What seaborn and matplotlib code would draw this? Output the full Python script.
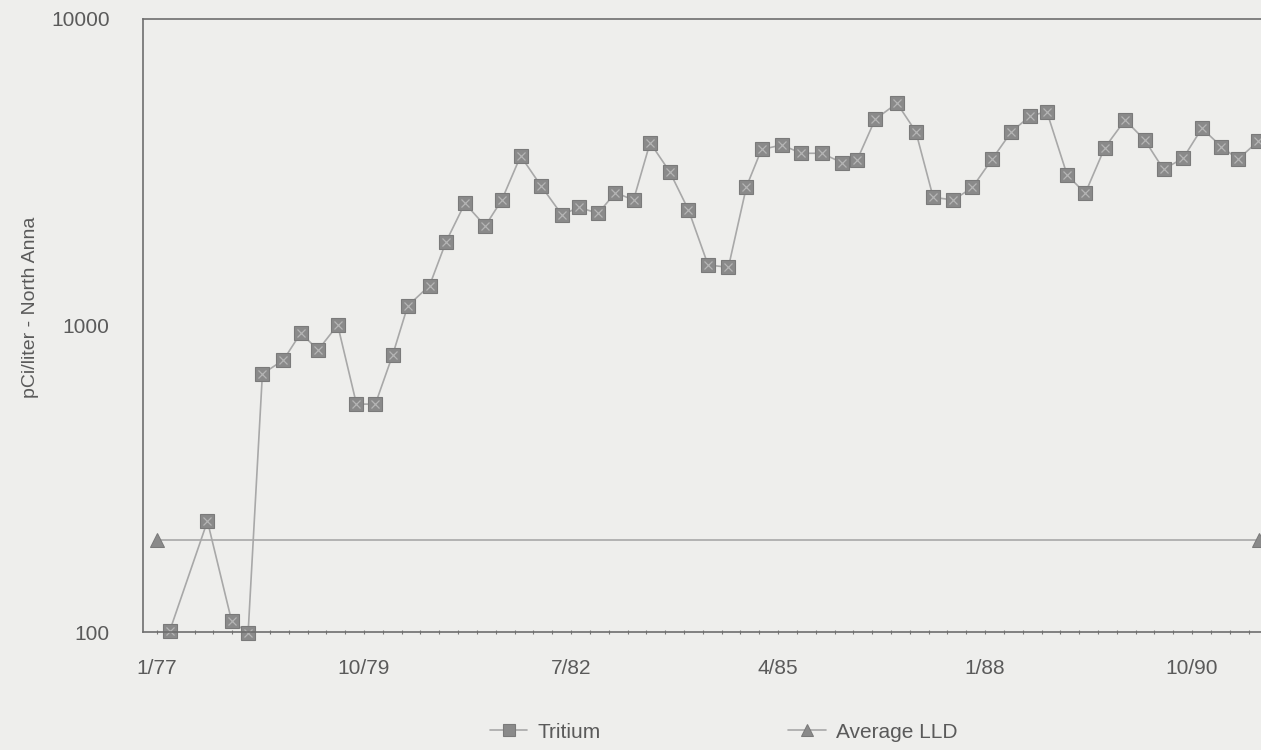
import numpy as np
import pandas as pd
import matplotlib
matplotlib.use("Agg")
import matplotlib.pyplot as plt
import seaborn as sns
from matplotlib.ticker import FixedLocator, NullLocator, NullFormatter

# ---- data ----
tritium_date = [1977.17, 1977.67, 1977.99, 1978.21, 1978.40, 1978.68, 1978.91, 1979.14,
                1979.40, 1979.65, 1979.90, 1980.13, 1980.33, 1980.62, 1980.84, 1981.09,
                1981.36, 1981.58, 1981.83, 1982.10, 1982.38, 1982.60, 1982.86, 1983.09,
                1983.33, 1983.55, 1983.81, 1984.06, 1984.32, 1984.59, 1984.83, 1985.03,
                1985.30, 1985.56, 1985.83, 1986.10, 1986.30, 1986.54, 1986.83, 1987.08,
                1987.31, 1987.58, 1987.83, 1988.09, 1988.35, 1988.60, 1988.82, 1989.09,
                1989.33, 1989.59, 1989.86, 1990.12, 1990.37, 1990.63, 1990.88, 1991.14,
                1991.36, 1991.63]
tritium_value = [101, 230, 109, 99, 695, 772, 945, 832,
                 1004, 554, 554, 801, 1158, 1349, 1877, 2504,
                 2112, 2567, 3573, 2858, 2294, 2430, 2323, 2713,
                 2567, 3949, 3176, 2382, 1576, 1548, 2837, 3752,
                 3881, 3646, 3646, 3398, 3467, 4708, 5309, 4289,
                 2620, 2567, 2820, 3480, 4289, 4826, 4985, 3097,
                 2700, 3803, 4683, 4029, 3233, 3512, 4399, 3832,
                 3485, 3999]
lld_date = [1977.0, 1991.64]
lld_value = [200, 200]

xtick_pos = [1977.0, 1979.75, 1982.5, 1985.25, 1988.0, 1990.75]
xtick_labels = ["1/77", "10/79", "7/82", "4/85", "1/88", "10/90"]
ytick_pos = [100, 1000, 10000]
ytick_labels = ["100", "1000", "10000"]

tritium_df = pd.DataFrame({"date": tritium_date, "value": tritium_value})
lld_df = pd.DataFrame({"date": lld_date, "value": lld_value})

# ---- style ----
sns.set_theme(style="white")
plt.rcParams["font.family"] = ["Liberation Sans", "DejaVu Sans"]
bg = "#eeeeec"
text_c = "#5a5a5a"
line_c = "#a8a8a8"
mark_c = "#8a8a8a"

fig = plt.figure(figsize=(12.61, 7.5), dpi=100, facecolor=bg)
ax = fig.add_axes([0.1134, 0.1573, 0.8866, 0.8174])
ax.set_facecolor(bg)

sns.lineplot(data=tritium_df, x="date", y="value", ax=ax, sort=False, estimator=None,
             color=line_c, linewidth=1.2, marker="s", markersize=10,
             markerfacecolor=mark_c, markeredgecolor="#7a7a7a", markeredgewidth=0.8,
             label="Tritium", clip_on=False)
ax.plot(tritium_df["date"], tritium_df["value"], linestyle="none", marker="x",
        markersize=5.5, markeredgecolor="#b5b5b5", markeredgewidth=0.9, clip_on=False)
sns.lineplot(data=lld_df, x="date", y="value", ax=ax, sort=False, estimator=None,
             color=line_c, linewidth=1.2, marker="^", markersize=10,
             markerfacecolor=mark_c, markeredgecolor="#7a7a7a",
             label="Average LLD", clip_on=False)

ax.set_yscale("log")
ax.set_ylim(100, 10000)
ax.set_xlim(1976.814, 1991.665)

ax.yaxis.set_major_locator(FixedLocator(ytick_pos))
ax.set_yticklabels(ytick_labels)
ax.yaxis.set_minor_locator(NullLocator())
ax.yaxis.set_minor_formatter(NullFormatter())
ax.tick_params(axis="y", which="major", length=0, pad=24, labelsize=15, labelcolor=text_c)

ax.xaxis.set_major_locator(FixedLocator(xtick_pos))
ax.set_xticklabels(xtick_labels)
ax.xaxis.set_minor_locator(FixedLocator(list(np.arange(1977.0, 1991.6, 0.25))))
ax.tick_params(axis="x", which="major", length=3, width=0.8, direction="inout",
               color="#777777", pad=18, labelsize=15, labelcolor=text_c, bottom=True)
ax.tick_params(axis="x", which="minor", length=3, width=0.8, direction="inout",
               color="#777777", bottom=True)

for s in ["left", "bottom", "top"]:
    ax.spines[s].set_visible(True)
    ax.spines[s].set_color("#6e6e6e")
    ax.spines[s].set_linewidth(1.2)
ax.spines["right"].set_visible(False)

ax.set_xlabel("")
ax.set_ylabel("pCi/liter - North Anna", fontsize=14, color=text_c, labelpad=16)
ax.yaxis.set_label_coords(-0.093, 0.53)

if ax.get_legend():
    ax.get_legend().remove()
h, l = ax.get_legend_handles_labels()
fig.legend(h, l, loc="center", bbox_to_anchor=(0.574, 0.024), ncol=2, frameon=False,
           fontsize=15, labelcolor=text_c, handlelength=1.8, handletextpad=0.5,
           columnspacing=9, markerscale=0.8)

fig.savefig("out.png", dpi=100, facecolor=bg)
